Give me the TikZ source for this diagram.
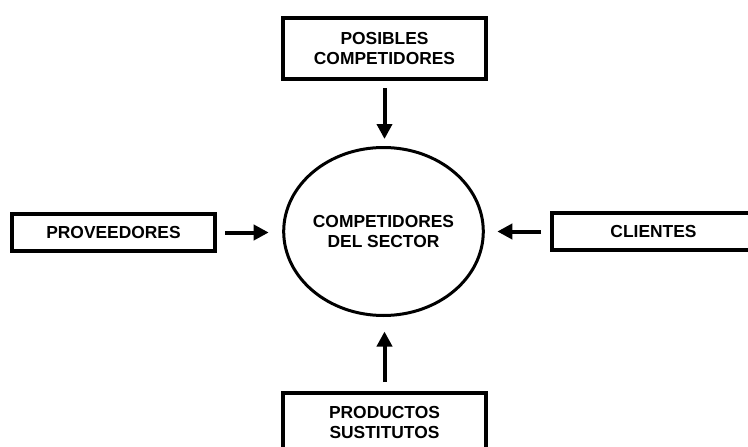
\documentclass[tikz,border=0pt]{standalone}
\usepackage{fontspec}
\setmainfont{Liberation Sans}
\usetikzlibrary{shapes.geometric,arrows.meta}

\begin{document}
\begin{tikzpicture}[x=1pt, y=-1pt,
    caja/.style={draw, line width=4pt, minimum width=203pt, inner sep=0pt, outer sep=0pt,
        align=center, font=\bfseries\fontsize{17.4}{20}\selectfont},
    flecha/.style={-{Triangle[length=15pt,width=15pt]}, line width=4pt}]
    \useasboundingbox (0,0) rectangle (748,447);

    % Top
    \node[caja, minimum height=61pt] (posibles) at (384.5,48.5) {POSIBLES\\COMPETIDORES};

    % Middle
    \node[caja, minimum height=37pt] (proveedores) at (113.5,232.5) {PROVEEDORES};
    \node[draw, ellipse, line width=3pt, minimum width=184pt, minimum height=168pt,
        inner sep=0pt, outer sep=0pt, align=center,
        font=\bfseries\fontsize{17.4}{20}\selectfont] (sector) at (383.5,231.5) {COMPETIDORES\\DEL SECTOR};
    \node[caja, minimum height=37pt] (clientes) at (653.5,231.5) {CLIENTES};

    % Bottom
    \node[caja, minimum height=61pt] (sustitutos) at (384.5,423) {PRODUCTOS\\SUSTITUTOS};

    % Edges
    \draw[flecha, shorten <=9pt, shorten >=8.5pt] (posibles.south) -- (posibles.south |- sector.north);
    \draw[flecha, shorten <=10pt, shorten >=15pt] (proveedores.east) -- (proveedores.east -| sector.west);
    \draw[flecha, shorten <=11pt, shorten >=14pt] (clientes.west) -- (sector.east);
    \draw[flecha, shorten <=10.5pt, shorten >=16pt] (sustitutos.north) -- (sustitutos.north |- sector.south);
\end{tikzpicture}
\end{document}
